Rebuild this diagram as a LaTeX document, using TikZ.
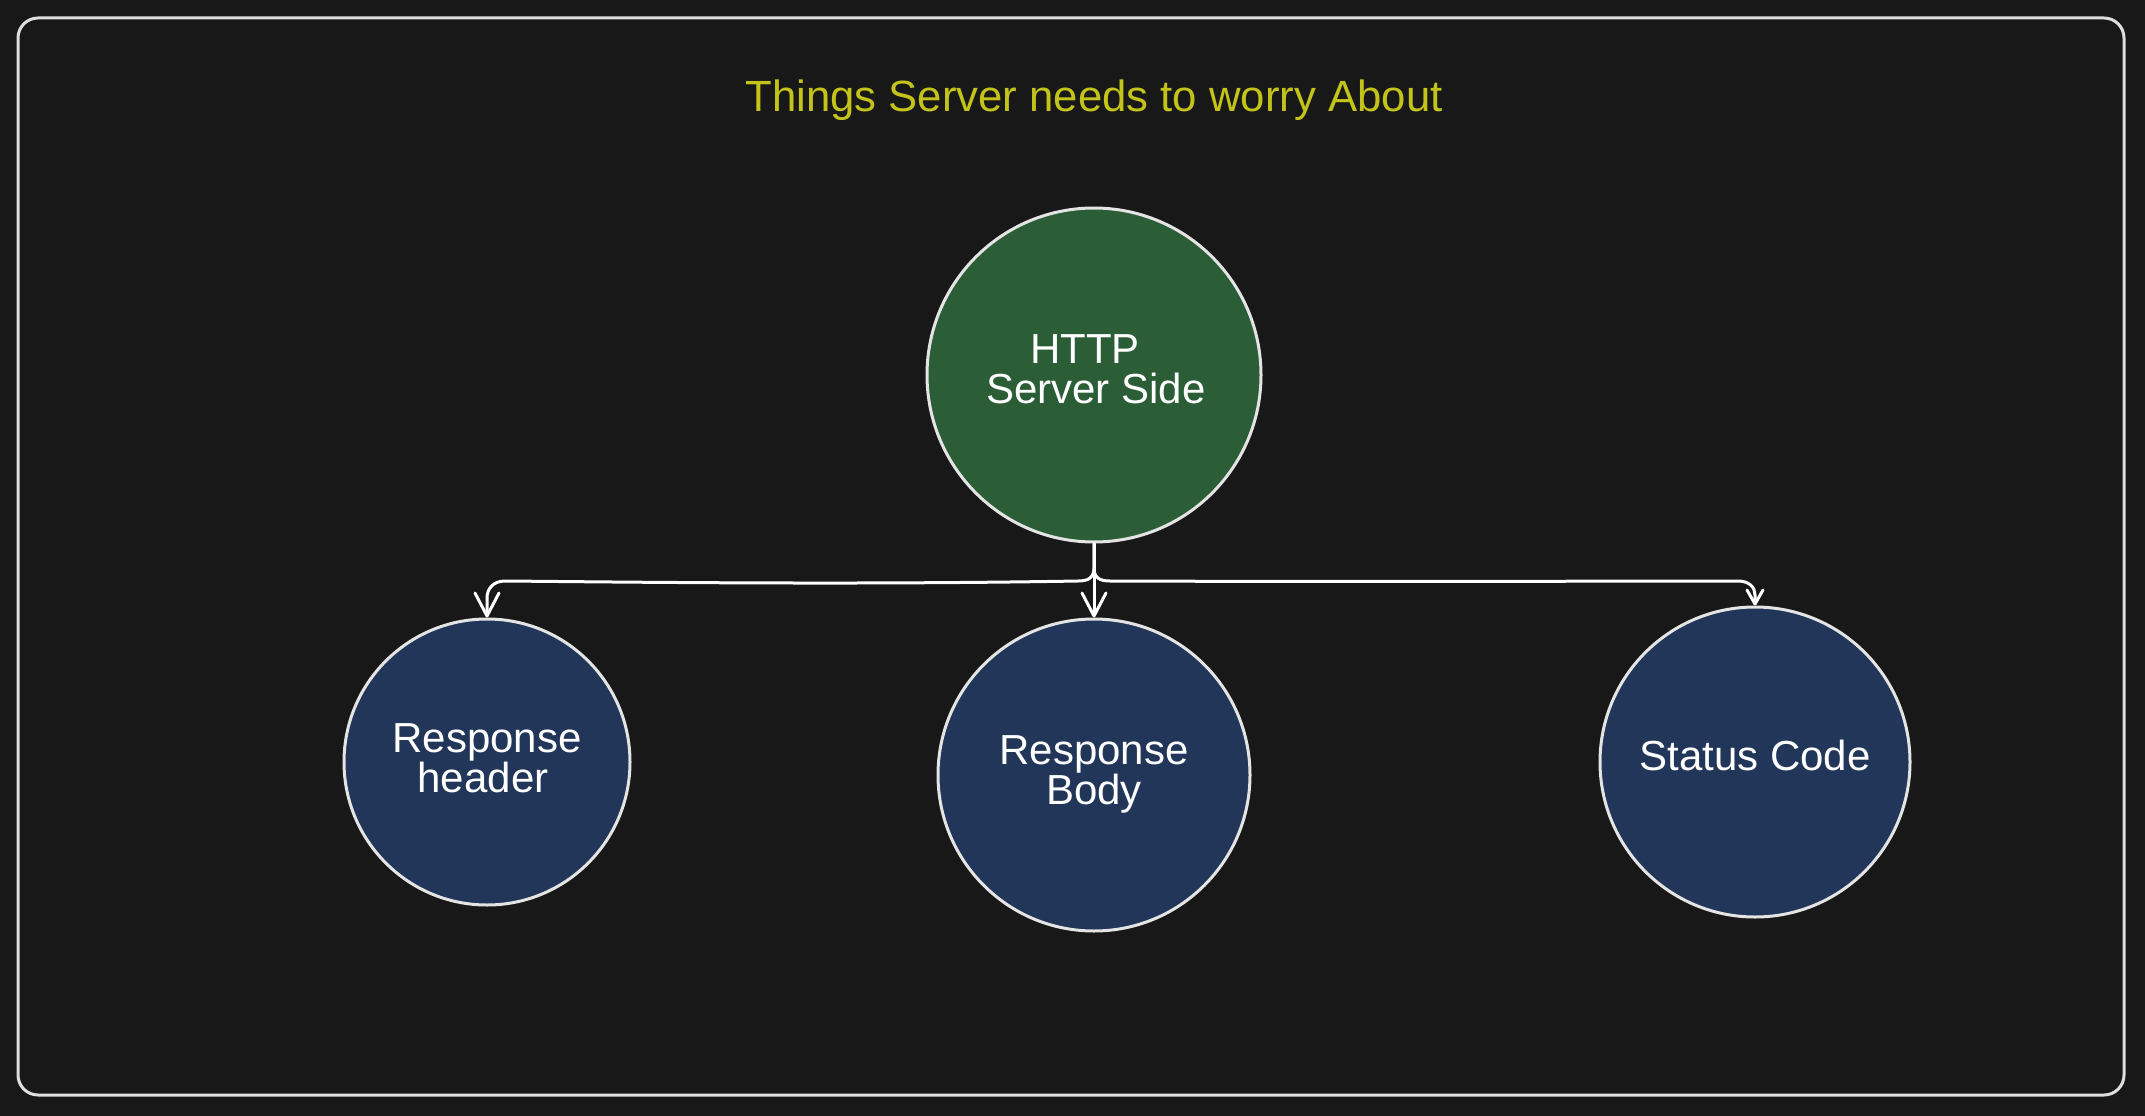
\documentclass[tikz,border=0pt]{standalone}
\usepackage{fontspec}
\setmainfont{Liberation Sans}
\usetikzlibrary{arrows.meta}
\definecolor{bgc}{RGB}{24,24,24}
\definecolor{framec}{RGB}{222,222,222}
\definecolor{strokec}{RGB}{228,228,228}
\definecolor{greenf}{RGB}{43,94,55}
\definecolor{bluef}{RGB}{33,54,88}
\definecolor{titlec}{RGB}{195,195,25}
\begin{document}
\begin{tikzpicture}[x=1pt,y=-1pt,
  circ/.style={circle, draw=strokec, line width=3pt, inner sep=0pt},
  lbl/.style={text=white, font=\fontsize{42}{40}\selectfont, anchor=base, inner sep=0pt},
  conn/.style={draw=white, line width=3pt, line cap=round, line join=round,
    -{Straight Barb[length=23pt,width=24pt,round]}},
  connshort/.style={conn, -{Straight Barb[length=14pt,width=16pt,round]}}]
\fill[bgc] (0,0) rectangle (2145,1116);
\useasboundingbox (0,0) rectangle (2145,1116);
\draw[framec, line width=3pt, rounded corners=20pt] (18,18) rectangle (2124,1095);

\node[text=titlec, font=\fontsize{43.7}{44}\selectfont, anchor=base, inner sep=0pt] (title) at (1094,111) {Things Server needs to worry About};

\node[circ, fill=greenf, minimum size=334pt] (g) at (1094,375) {};
\node[circ, fill=bluef, minimum size=286pt] (rh) at (487,762) {};
\node[circ, fill=bluef, minimum size=312pt] (rb) at (1094,775) {};
\node[circ, fill=bluef, minimum size=310pt] (sc) at (1755,762) {};

\node[lbl] (g1) at (1085,363) {HTTP};
\node[lbl] (g2) at (1096,403) {Server Side};
\node[lbl] (rh1) at (487,752) {Response};
\node[lbl] (rh2) at (483,792) {header};
\node[lbl] (rb1) at (1094,764) {Response};
\node[lbl] (rb2) at (1094,804) {Body};
\node[lbl] (sc1) at (1755,770) {Status Code};

\draw[conn] (g.south) -- (1094,568) .. controls (1094,578) and (1088,581) .. (1078,581)
  .. controls (850,585) and (620,582) .. (505,581)
  .. controls (493,581) and (487,589) .. (487,598) -- (rh.north);
\draw[conn] (g.south) -- (rb.north);
\draw[connshort] (g.south) -- (1094,568) .. controls (1094,578) and (1100,581) .. (1110,581)
  .. controls (1400,582) and (1600,581) .. (1738,581)
  .. controls (1750,581) and (1755,588) .. (1755,595) -- (sc.north);
\end{tikzpicture}
\end{document}
